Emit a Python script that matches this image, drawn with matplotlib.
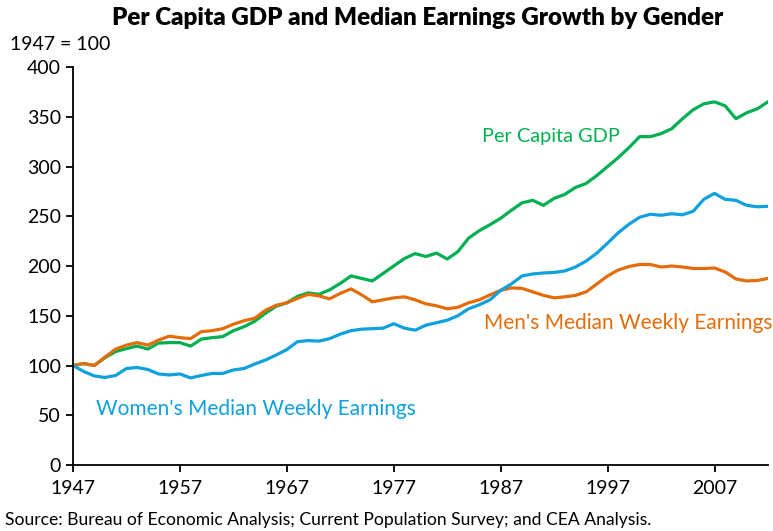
import numpy as np
import matplotlib.pyplot as plt

plt.rcParams['font.family'] = ['Lato', 'DejaVu Sans']

years = list(range(1947, 2013))

# index values, 1947 = 100
gdp = [100, 102, 100, 108, 114, 117, 119.5, 116.5, 122.5, 123,
       123, 119.5, 126.5, 128, 129, 135, 139, 144.5, 152.5, 159.5,
       163, 169.5, 173, 171.5, 176, 182.5, 190, 187.5, 185, 192.5,
       200, 207.5, 212.5, 209.5, 213, 207, 214.5, 228, 235.5, 241.5,
       248, 256, 263.5, 266, 261, 268, 272, 279, 283, 291,
       300, 309, 319, 330, 330, 333, 338, 348, 357, 363,
       365, 361, 348, 354, 358, 365]

men = [100, 102, 100, 108.5, 116.5, 120.5, 123, 120.5, 125.5, 129.5,
       128, 127, 134, 135, 137, 141.5, 145, 147.5, 155.5, 160.5,
       163, 167.5, 171.5, 170, 167, 172.5, 177, 171, 164, 166,
       168, 169, 166, 162, 160, 157, 158.5, 163, 166, 171,
       175.5, 178, 177.5, 174, 170.5, 168, 169, 170.5, 174, 182,
       190, 196, 199.5, 201.5, 201.5, 199, 200, 199, 197.5, 197.5,
       198, 194, 187, 185, 185.5, 187.5]

women = [100, 94, 89.5, 88, 90, 97, 98, 96, 91.5, 90.5,
         91.5, 87.5, 90, 92, 92, 95.5, 97, 101.5, 105.5, 110.5,
         116, 124, 125, 124.5, 127, 131.5, 135, 136.5, 137, 137.5,
         142, 137.5, 135.5, 140.5, 143, 145.5, 150, 157, 161, 166,
         175.5, 182, 190, 192, 193, 193.5, 195, 199, 205, 213,
         223, 233.5, 242, 249, 252, 251, 252.5, 251.5, 255, 267,
         273, 267, 266, 261, 259.5, 260]

xticks = [1947, 1957, 1967, 1977, 1987, 1997, 2007]

GREEN = '#00B050'
ORANGE = '#E46C0A'
BLUE = '#0FA0DE'

fig = plt.figure(figsize=(7.73, 5.31), dpi=100)
ax = fig.add_axes([0.0944, 0.1243, 0.8991, 0.7495])

ax.plot(years, gdp, color=GREEN, lw=2.3, solid_joinstyle='round')
ax.plot(years, men, color=ORANGE, lw=2.3, solid_joinstyle='round')
ax.plot(years, women, color=BLUE, lw=2.3, solid_joinstyle='round')

ax.set_xlim(1947, 2012)
ax.set_ylim(0, 400)
ax.set_yticks(range(0, 401, 50))
ax.set_xticks(xticks)
ax.set_xticklabels([str(y) for y in xticks])

for s in ['top', 'right']:
    ax.spines[s].set_visible(False)
for s in ['left', 'bottom']:
    ax.spines[s].set_color('black')
    ax.spines[s].set_linewidth(1.3)
ax.tick_params(axis='both', direction='out', length=5, width=1.3,
               labelsize=14, colors='black')
ax.tick_params(axis='x', pad=6)

ax.text(1985.3, 330, 'Per Capita GDP', color=GREEN, fontsize=14.3, va='center')
ax.text(1985.4, 143, "Men's Median Weekly Earnings", color=ORANGE, fontsize=15, va='center')
ax.text(1949.2, 56, "Women's Median Weekly Earnings", color=BLUE, fontsize=15, va='center')

fig.text(0.54, 0.966, 'Per Capita GDP and Median Earnings Growth by Gender',
         ha='center', va='center', fontsize=17.4, fontweight='heavy')
fig.text(0.013, 0.917, '1947 = 100', ha='left', va='center', fontsize=14)
fig.text(0.006, 0.021, 'Source: Bureau of Economic Analysis; Current Population Survey; and CEA Analysis.',
         ha='left', va='center', fontsize=12.6)

fig.savefig('out.png', dpi=100)
